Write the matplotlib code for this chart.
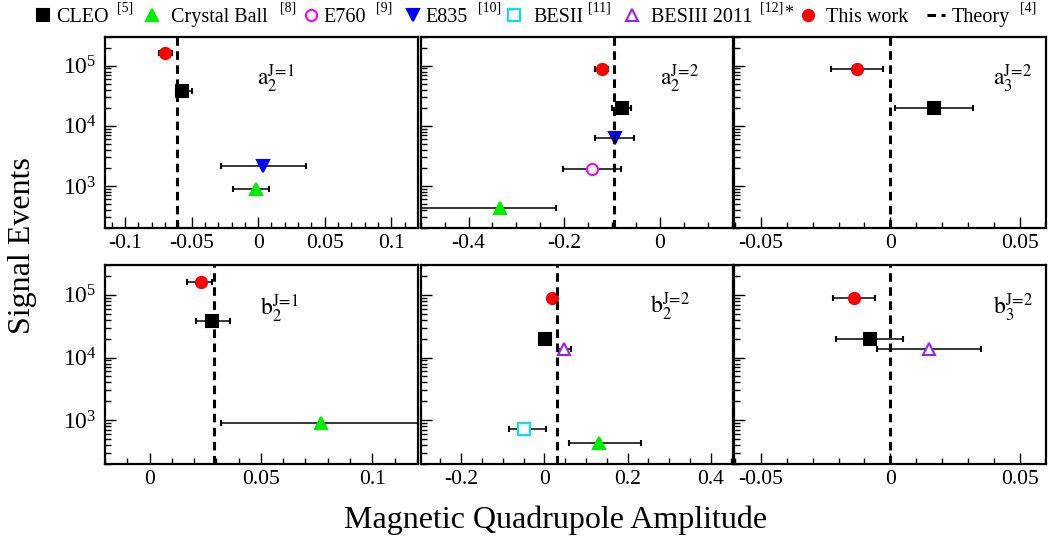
import matplotlib
matplotlib.use("Agg")
import matplotlib.pyplot as plt
from matplotlib.lines import Line2D
from matplotlib.ticker import MultipleLocator, FuncFormatter, LogLocator, NullFormatter

plt.rcParams['font.family'] = ['Liberation Serif', 'DejaVu Serif']
plt.rcParams['mathtext.fontset'] = 'stix'
plt.rcParams['axes.unicode_minus'] = False

# panel order: a2(J=1), a2(J=2), a3(J=2), b2(J=1), b2(J=2), b3(J=2)
panel_names = [r"$\mathrm{a}_{2}^{\mathrm{J\!=\!1}}$", r"$\mathrm{a}_{2}^{\mathrm{J\!=\!2}}$", r"$\mathrm{a}_{3}^{\mathrm{J\!=\!2}}$",
               r"$\mathrm{b}_{2}^{\mathrm{J\!=\!1}}$", r"$\mathrm{b}_{2}^{\mathrm{J\!=\!2}}$", r"$\mathrm{b}_{3}^{\mathrm{J\!=\!2}}$"]
theory = [-0.061, -0.097, 0.0, 0.029, 0.030, 0.0]

# each experiment: value, lower end, upper end of error bar, signal events (None = not measured)
cleo_x = [-0.057, -0.080, 0.017, 0.028, 0.002, -0.008]
cleo_lo = [-0.061, -0.100, 0.002, 0.021, -0.010, -0.021]
cleo_hi = [-0.050, -0.061, 0.032, 0.036, 0.016, 0.005]
cleo_n = [3.85e4, 1.95e4, 1.95e4, 3.85e4, 1.95e4, 1.95e4]

cb_x = [-0.002, -0.334, None, 0.077, 0.132, None]
cb_lo = [-0.019, -0.55, None, 0.032, 0.059, None]
cb_hi = [0.008, -0.218, None, 0.15, 0.232, None]
cb_n = [900, 425, None, 900, 425, None]

e760_x = [None, -0.142, None, None, None, None]
e760_lo = [None, -0.202, None, None, None, None]
e760_hi = [None, -0.081, None, None, None, None]
e760_n = [None, 1900, None, None, None, None]

e835_x = [0.004, -0.093, None, None, None, None]
e835_lo = [-0.028, -0.135, None, None, None, None]
e835_hi = [0.036, -0.055, None, None, None, None]
e835_n = [2150, 6200, None, None, None, None]

besii_x = [None, None, None, None, -0.049, None]
besii_lo = [None, None, None, None, -0.085, None]
besii_hi = [None, None, None, None, 0.005, None]
besii_n = [None, None, None, None, 720, None]

besiii_x = [None, None, None, None, 0.047, 0.015]
besiii_lo = [None, None, None, None, 0.033, -0.005]
besiii_hi = [None, None, None, None, 0.065, 0.035]
besiii_n = [None, None, None, None, 1.36e4, 1.36e4]

this_x = [-0.070, -0.122, -0.013, 0.023, 0.018, -0.014]
this_lo = [-0.0745, -0.136, -0.023, 0.0167, 0.010, -0.022]
this_hi = [-0.065, -0.108, -0.003, 0.028, 0.026, -0.006]
this_n = [1.6e5, 8.9e4, 8.9e4, 1.6e5, 8.9e4, 8.9e4]

xlims = [(-0.115, 0.12), (-0.5, 0.152), (-0.0603, 0.0602), (-0.02, 0.1205), (-0.2975, 0.453), (-0.0603, 0.0602)]
xmajor = [0.05, 0.2, 0.05, 0.05, 0.2, 0.05]
xminor = [0.01, 0.05, 0.01, 0.01, 0.05, 0.01]
label_pos = [(0.486, 0.783), (0.767, 0.78), (0.83, 0.78), (0.494, 0.779), (0.735, 0.789), (0.83, 0.784)]

# style per experiment: marker, face colour, edge colour
experiments = [
    (cleo_x, cleo_lo, cleo_hi, cleo_n, 's', 'black', 'black'),
    (cb_x, cb_lo, cb_hi, cb_n, '^', '#00ee00', '#00ee00'),
    (e760_x, e760_lo, e760_hi, e760_n, 'o', 'white', '#ff00ff'),
    (e835_x, e835_lo, e835_hi, e835_n, 'v', '#0000ff', '#0000ff'),
    (besii_x, besii_lo, besii_hi, besii_n, 's', 'white', '#00e5ee'),
    (besiii_x, besiii_lo, besiii_hi, besiii_n, '^', 'white', '#9a1eff'),
    (this_x, this_lo, this_hi, this_n, 'o', '#ff0000', '#ff0000'),
]

W, H = 1056, 548
fig = plt.figure(figsize=(W / 100, H / 100), dpi=100)

col_px = [(105, 313), (420.7, 312), (734.3, 311.7)]
row_px = [(37, 228), (265, 464)]


def fmt(v, pos):
    v = round(v, 4)
    if v == 0:
        return "0"
    return f"{v:g}"


for i in range(6):
    r, c = divmod(i, 3)
    x0, w = col_px[c]
    top, bot = row_px[r]
    ax = fig.add_axes([x0 / W, 1 - bot / H, w / W, (bot - top) / H])
    ax.set_yscale('log')
    ax.set_ylim(200, 3e5)
    ax.set_xlim(*xlims[i])

    ax.axvline(theory[i], color='black', lw=2.2, ls=(0, (2.8, 1.8)), zorder=5)

    for xs, lo, hi, ns, mk, fc, ec in experiments:
        if xs[i] is None:
            continue
        ax.errorbar([xs[i]], [ns[i]], xerr=[[xs[i] - lo[i]], [hi[i] - xs[i]]],
                    fmt=mk, mfc=fc, mec=ec, mew=1.5, ms=8, ecolor='black',
                    elinewidth=1.1, capsize=2.2, capthick=1.0, zorder=3)

    ax.text(label_pos[i][0], label_pos[i][1], panel_names[i], transform=ax.transAxes,
            fontsize=17, ha='left', va='center')

    ax.xaxis.set_major_locator(MultipleLocator(xmajor[i]))
    ax.xaxis.set_minor_locator(MultipleLocator(xminor[i]))
    ax.xaxis.set_major_formatter(FuncFormatter(fmt))
    ax.yaxis.set_major_locator(LogLocator(base=10, numticks=10))
    ax.yaxis.set_minor_locator(LogLocator(base=10, subs=range(2, 10), numticks=20))
    ax.yaxis.set_minor_formatter(NullFormatter())
    ax.tick_params(which='both', direction='in', top=False, right=False, width=1)
    ax.tick_params(which='major', length=8)
    ax.tick_params(which='minor', length=4)
    ax.tick_params(axis='x', pad=4, labelsize=15.5)
    ax.tick_params(axis='y', pad=6, labelsize=17)
    if c != 0:
        ax.set_yticklabels([])
    for s in ax.spines.values():
        s.set_linewidth(1.6)

fig.text(23 / W, 1 - 245.5 / H, "Signal Events", rotation=90, fontsize=23, ha='center', va='center')
fig.text(556 / W, 1 - 520 / H, "Magnetic Quadrupole Amplitude", fontsize=23, ha='center', va='center')

# legend row across the top
leg_y = 1 - 17.5 / H
sup_y = 1 - 8 / H
legend_items = [
    ('s', 'black', 'black', 43, "CLEO", 56, "[5]", 117),
    ('^', '#00ee00', '#00ee00', 152, "Crystal Ball", 171, "[8]", 280),
    ('o', 'white', '#ff00ff', 311, "E760", 323, "[9]", 376),
    ('v', '#0000ff', '#0000ff', 413, "E835", 425, "[10]", 478),
    ('s', 'white', '#00e5ee', 514, "BESII", 533, "[11]", 588),
    ('^', 'white', '#9a1eff', 632, "BESIII 2011", 651, "[12]", 760),
    ('o', '#ff0000', '#ff0000', 808, "This work", 826, None, None),
]
for mk, fc, ec, mx, name, tx, sup, sx in legend_items:
    fig.add_artist(Line2D([mx / W], [1 - 15 / H], marker=mk, mfc=fc, mec=ec, mew=1.5, ms=8,
                          transform=fig.transFigure))
    fig.text(tx / W, leg_y, name, fontsize=14.5, ha='left', va='center')
    if sup:
        fig.text(sx / W, sup_y, sup, fontsize=10, ha='left', va='center')
fig.text(784 / W, 1 - 13 / H, "*", fontsize=13, ha='left', va='center')
fig.add_artist(Line2D([927 / W, 945 / W], [1 - 15 / H, 1 - 15 / H], color='black', lw=2.2,
                      ls=(0, (2.8, 1.8)), transform=fig.transFigure))
fig.text(952 / W, leg_y, "Theory", fontsize=14.5, ha='left', va='center')
fig.text(1020 / W, sup_y, "[4]", fontsize=10, ha='left', va='center')

fig.savefig("out.png", dpi=100)
